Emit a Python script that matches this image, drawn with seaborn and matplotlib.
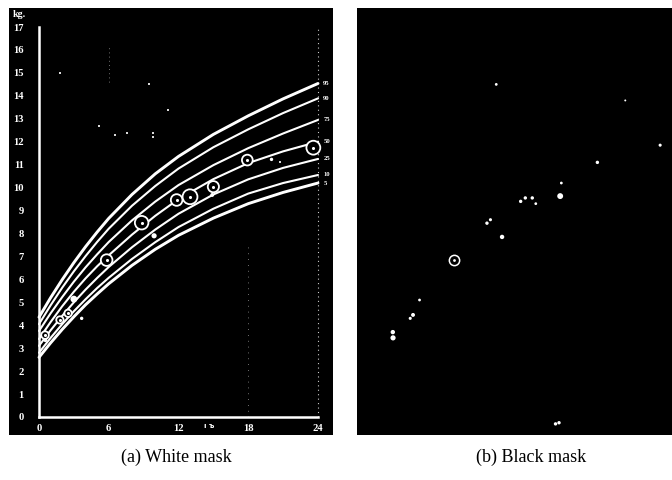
import numpy as np
import pandas as pd
import matplotlib
matplotlib.use("Agg")
import matplotlib.pyplot as plt
import seaborn as sns

sns.set_style("white")
plt.rcParams['font.family'] = ['Liberation Serif', 'DejaVu Serif']

# ---------------- data ----------------
months = [0, 1, 2, 3, 4, 5, 6, 8, 10, 12, 15, 18, 21, 24]
p95 = [4.35, 5.20, 5.99, 6.73, 7.42, 8.06, 8.66, 9.70, 10.60, 11.36, 12.32, 13.13, 13.87, 14.54]
p90 = [4.05, 4.87, 5.64, 6.35, 7.01, 7.63, 8.21, 9.21, 10.07, 10.83, 11.76, 12.54, 13.25, 13.89]
p75 = [3.75, 4.52, 5.23, 5.90, 6.52, 7.09, 7.63, 8.57, 9.39, 10.11, 10.98, 11.72, 12.36, 12.95]
p50 = [3.40, 4.14, 4.83, 5.46, 6.04, 6.57, 7.05, 7.95, 8.77, 9.50, 10.37, 11.07, 11.58, 12.00]
p25 = [3.10, 3.78, 4.41, 5.00, 5.55, 6.06, 6.54, 7.40, 8.17, 8.86, 9.70, 10.36, 10.86, 11.25]
p10 = [2.80, 3.45, 4.05, 4.61, 5.13, 5.62, 6.07, 6.89, 7.62, 8.28, 9.08, 9.74, 10.20, 10.55]
p5 = [2.60, 3.23, 3.82, 4.37, 4.89, 5.36, 5.81, 6.61, 7.31, 7.92, 8.67, 9.30, 9.79, 10.20]
pct_labels = ["95", "90", "75", "50", "25", "10", "5"]
pct_values = [p95, p90, p75, p50, p25, p10, p5]

# measured points (white mask): rings and filled dots
ring_x = [0.52, 1.8, 2.5, 5.82, 8.83, 11.84, 12.99, 15.0, 17.92, 23.6]
ring_y = [3.57, 4.23, 4.52, 6.84, 8.47, 9.46, 9.60, 10.04, 11.20, 11.74]
ring_s = [30, 28, 28, 70, 95, 70, 115, 65, 60, 100]
dot_x = [3.0, 3.67, 9.9, 14.9, 20.0, 0.55]
dot_y = [5.14, 4.30, 7.90, 9.68, 11.23, 3.35]
dot_s = [24, 6, 14, 8, 6, 8]
speck_x = [9.8, 9.8, 9.5, 1.8, 5.2, 11.1, 7.6, 6.5, 20.7]
speck_y = [12.4, 12.2, 14.5, 15.0, 12.7, 13.4, 12.4, 12.3, 11.1]

# residual fragments (black mask)
b_ring_x = [5.76]
b_ring_y = [6.84]
b_frag_x = [0.52, 0.5, 2.24, 2.0, 2.8, 8.6, 8.9, 9.9, 11.5, 11.9, 12.5, 12.8, 14.9, 15.0, 18.1, 23.5, 9.4, 20.5, 26.0, 14.5, 14.8]
b_frag_y = [3.45, 3.70, 4.45, 4.30, 5.10, 8.45, 8.60, 7.85, 9.40, 9.55, 9.55, 9.30, 9.63, 10.20, 11.10, 11.85, 14.50, 13.80, 11.9, -0.30, -0.25]
b_frag_s = [14, 10, 8, 5, 4, 6, 5, 10, 6, 6, 6, 4, 18, 4, 6, 5, 4, 2, 3, 6, 6]

yticks = list(range(0, 18))
xticks = [0, 6, 12, 18, 24]

# ---------------- figure ----------------
fig = plt.figure(figsize=(6.72, 4.8), dpi=100)
W, H = 672, 480
axa = fig.add_axes([9 / W, 1 - 435 / H, 324 / W, 427 / H])
axb = fig.add_axes([357 / W, 1 - 435 / H, 315 / W, 427 / H])

for ax in (axa, axb):
    ax.set_facecolor("black")
    ax.set_ylim(-0.785, 17.83)
axa.set_xlim(-2.58, 25.29)
axb.set_xlim(-2.58, 24.52)

# percentile curves
rows = []
for lab, vals in zip(pct_labels, pct_values):
    for m, v in zip(months, vals):
        rows.append({"month": m, "kg": v, "pct": lab})
df = pd.DataFrame(rows)
for lab in pct_labels:
    lw = 2.1 if lab in ("95", "5") else 1.5
    line = sns.lineplot(data=df[df.pct == lab], x="month", y="kg", color="white",
                        lw=lw, ax=axa, legend=False)
    axa.text(24.45, df[(df.pct == lab) & (df.month == 24)].kg.iloc[0], lab,
             color="white", fontsize=4.8, fontweight="bold", va="center", ha="left")
for ln in axa.get_lines():
    ln.set_solid_joinstyle("round")
    ln.set_solid_capstyle("round")

# faint dotted verticals
axa.plot([24, 24], [0, 17], color="white", lw=0.8, ls=(0, (1, 3)), alpha=0.8)
axa.plot([18, 18], [0, 7.6], color="white", lw=0.6, ls=(0, (1, 6)), alpha=0.6)
axa.plot([6, 6], [14.6, 16.2], color="white", lw=0.6, ls=(0, (1, 4)), alpha=0.6)

# points
pts = pd.DataFrame({"x": ring_x, "y": ring_y, "s": ring_s})
sns.scatterplot(data=pts, x="x", y="y", s=pts.s, facecolor="black",
                edgecolor="white", linewidth=1.3, ax=axa, legend=False, zorder=4)
sns.scatterplot(x=ring_x, y=ring_y, s=5, color="white", linewidth=0, ax=axa, zorder=5)
sns.scatterplot(x=dot_x, y=dot_y, s=dot_s, color="white", linewidth=0, ax=axa, zorder=5)
sns.scatterplot(x=speck_x, y=speck_y, s=3, color="white", linewidth=0, marker="s",
                ax=axa, zorder=5, alpha=0.85)

# axes (white) for panel a
for side in ("top", "right"):
    axa.spines[side].set_visible(False)
axa.spines["left"].set_position(("data", 0))
axa.spines["bottom"].set_position(("data", 0))
axa.spines["left"].set_bounds(0, 17)
axa.spines["bottom"].set_bounds(0, 24)
for side in ("left", "bottom"):
    axa.spines[side].set_color("white")
    axa.spines[side].set_linewidth(1.8)
axa.set_yticks(yticks)
axa.set_xticks(xticks)
axa.set_yticklabels([str(t) for t in yticks])
axa.set_xticklabels([str(t) for t in xticks])
axa.tick_params(axis="y", colors="white", direction="out", length=5.5, width=1.5,
                pad=5.5, labelsize=7.6)
axa.tick_params(axis="x", colors="white", direction="inout", length=8, width=1.5,
                pad=1, labelsize=7.6)
for lbl in axa.get_xticklabels() + axa.get_yticklabels():
    lbl.set_fontweight("bold")
axa.set_xlabel("")
axa.set_ylabel("")
axa.text(-2.3, 17.75, "kg.", color="white", fontsize=7.2, fontweight="bold",
         va="top", ha="left")
axa.text(14.6, -0.38, "ı ъ", color="white", fontsize=5, fontweight="bold",
         va="center", ha="center", family=["DejaVu Sans"])

# panel b
for side in ("top", "right", "left", "bottom"):
    axb.spines[side].set_visible(False)
axb.set_xticks([])
axb.set_yticks([])
sns.scatterplot(x=b_ring_x, y=b_ring_y, s=55, facecolor="black", edgecolor="white",
                linewidth=1.1, ax=axb, zorder=4)
sns.scatterplot(x=b_ring_x, y=b_ring_y, s=4, color="white", linewidth=0, ax=axb, zorder=5)
sns.scatterplot(x=b_frag_x, y=b_frag_y, s=b_frag_s, color="white", linewidth=0,
                ax=axb, zorder=5, legend=False)
axb.set_xlabel("")
axb.set_ylabel("")

# captions
fig.text(176 / W, 1 - 457 / H, "(a) White mask", ha="center", va="center",
         fontsize=13, color="black")
fig.text(531 / W, 1 - 457 / H, "(b) Black mask", ha="center", va="center",
         fontsize=13, color="black")

fig.savefig("out.png", dpi=100, facecolor="white")
